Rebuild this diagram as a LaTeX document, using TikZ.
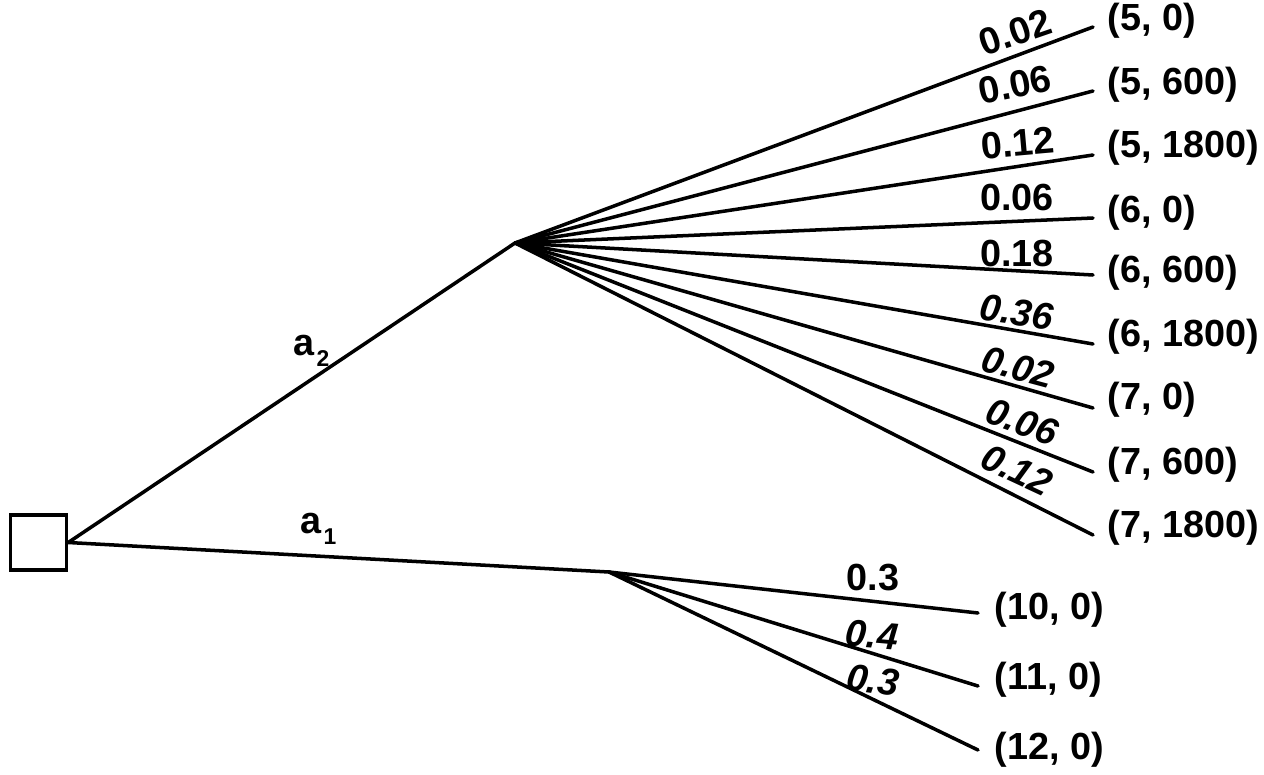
\documentclass[tikz,border=0pt]{standalone}
\usepackage{fontspec}
\setmainfont{Liberation Sans}
\begin{document}
\begin{tikzpicture}[x=0.02cm,y=-0.02cm,line width=2pt,
  decision/.style={draw,line width=2pt,minimum width=1.12cm,minimum height=1.1cm,inner sep=0pt},
  branch/.style={line width=2pt,line cap=round},
  leaf/.style={anchor=west,font=\bfseries\fontsize{21.5}{24}\selectfont,inner sep=0pt},
  prob/.style={font=\bfseries\fontsize{21.5}{24}\selectfont,inner sep=0pt},
  iprob/.style={font=\bfseries\itshape\fontsize{21.5}{24}\selectfont,inner sep=0pt},
  act/.style={anchor=base west,font=\bfseries\fontsize{21.5}{24}\selectfont,inner sep=0pt}]
\useasboundingbox (0,0) rectangle (1264,774);
% decision node
\node[decision] (dec) at (38.5,542.5) {};
% chance nodes
\coordinate (c2) at (515,243);
\coordinate (c1) at (609,572);
\draw[branch] (dec.east) -- (c2);
\draw[branch] (dec.east) -- (c1);
% action labels
\node[act] (a2) at (292,355) {a\hspace{1pt}\raisebox{-6.8pt}{\fontsize{13}{13}\selectfont 2}};
\node[act] (a1) at (299,533) {a\hspace{1pt}\raisebox{-6.8pt}{\fontsize{13}{13}\selectfont 1}};
% upper leaves
\coordinate (e1) at (1093,27);
\coordinate (e2) at (1093,91);
\coordinate (e3) at (1093,155);
\coordinate (e4) at (1093,218);
\coordinate (e5) at (1093,275);
\coordinate (e6) at (1093,344);
\coordinate (e7) at (1093,408);
\coordinate (e8) at (1093,472);
\coordinate (e9) at (1093,535);
\foreach \i in {1,...,9} {\draw[branch] (c2) -- (e\i);}
\node[leaf] (l1) at (1106,21) {(5, 0)};
\node[leaf] (l2) at (1106,85) {(5, 600)};
\node[leaf] (l3) at (1106,148) {(5, 1800)};
\node[leaf] (l4) at (1106,213) {(6, 0)};
\node[leaf] (l5) at (1106,273) {(6, 600)};
\node[leaf] (l6) at (1106,337) {(6, 1800)};
\node[leaf] (l7) at (1106,400) {(7, 0)};
\node[leaf] (l8) at (1106,465) {(7, 600)};
\node[leaf] (l9) at (1106,528) {(7, 1800)};
% upper probabilities
\node[prob,rotate=19] (p1) at (1015,32) {0.02};
\node[prob,rotate=11] (p2) at (1015,85) {0.06};
\node[prob,rotate=5] (p3) at (1018,143) {0.12};
\node[prob] (p4) at (1017,197) {0.06};
\node[prob] (p5) at (1017,253) {0.18};
\node[iprob,rotate=-8] (p6) at (1017,312) {0.36};
\node[iprob,rotate=-15] (p7) at (1018,367) {0.02};
\node[iprob,rotate=-20] (p8) at (1022,422) {0.06};
\node[iprob,rotate=-25] (p9) at (1017,470) {0.12};
% lower leaves
\coordinate (f1) at (978,613);
\coordinate (f2) at (978,686);
\coordinate (f3) at (978,750);
\foreach \i in {1,2,3} {\draw[branch] (c1) -- (f\i);}
\node[leaf] (m1) at (993,610) {(10, 0)};
\node[leaf] (m2) at (993,680) {(11, 0)};
\node[leaf] (m3) at (993,750) {(12, 0)};
\node[prob] (q1) at (873,578) {0.3};
\node[iprob,rotate=-5] (q2) at (872,635) {0.4};
\node[iprob,rotate=-8] (q3) at (873,680) {0.3};
\end{tikzpicture}
\end{document}
